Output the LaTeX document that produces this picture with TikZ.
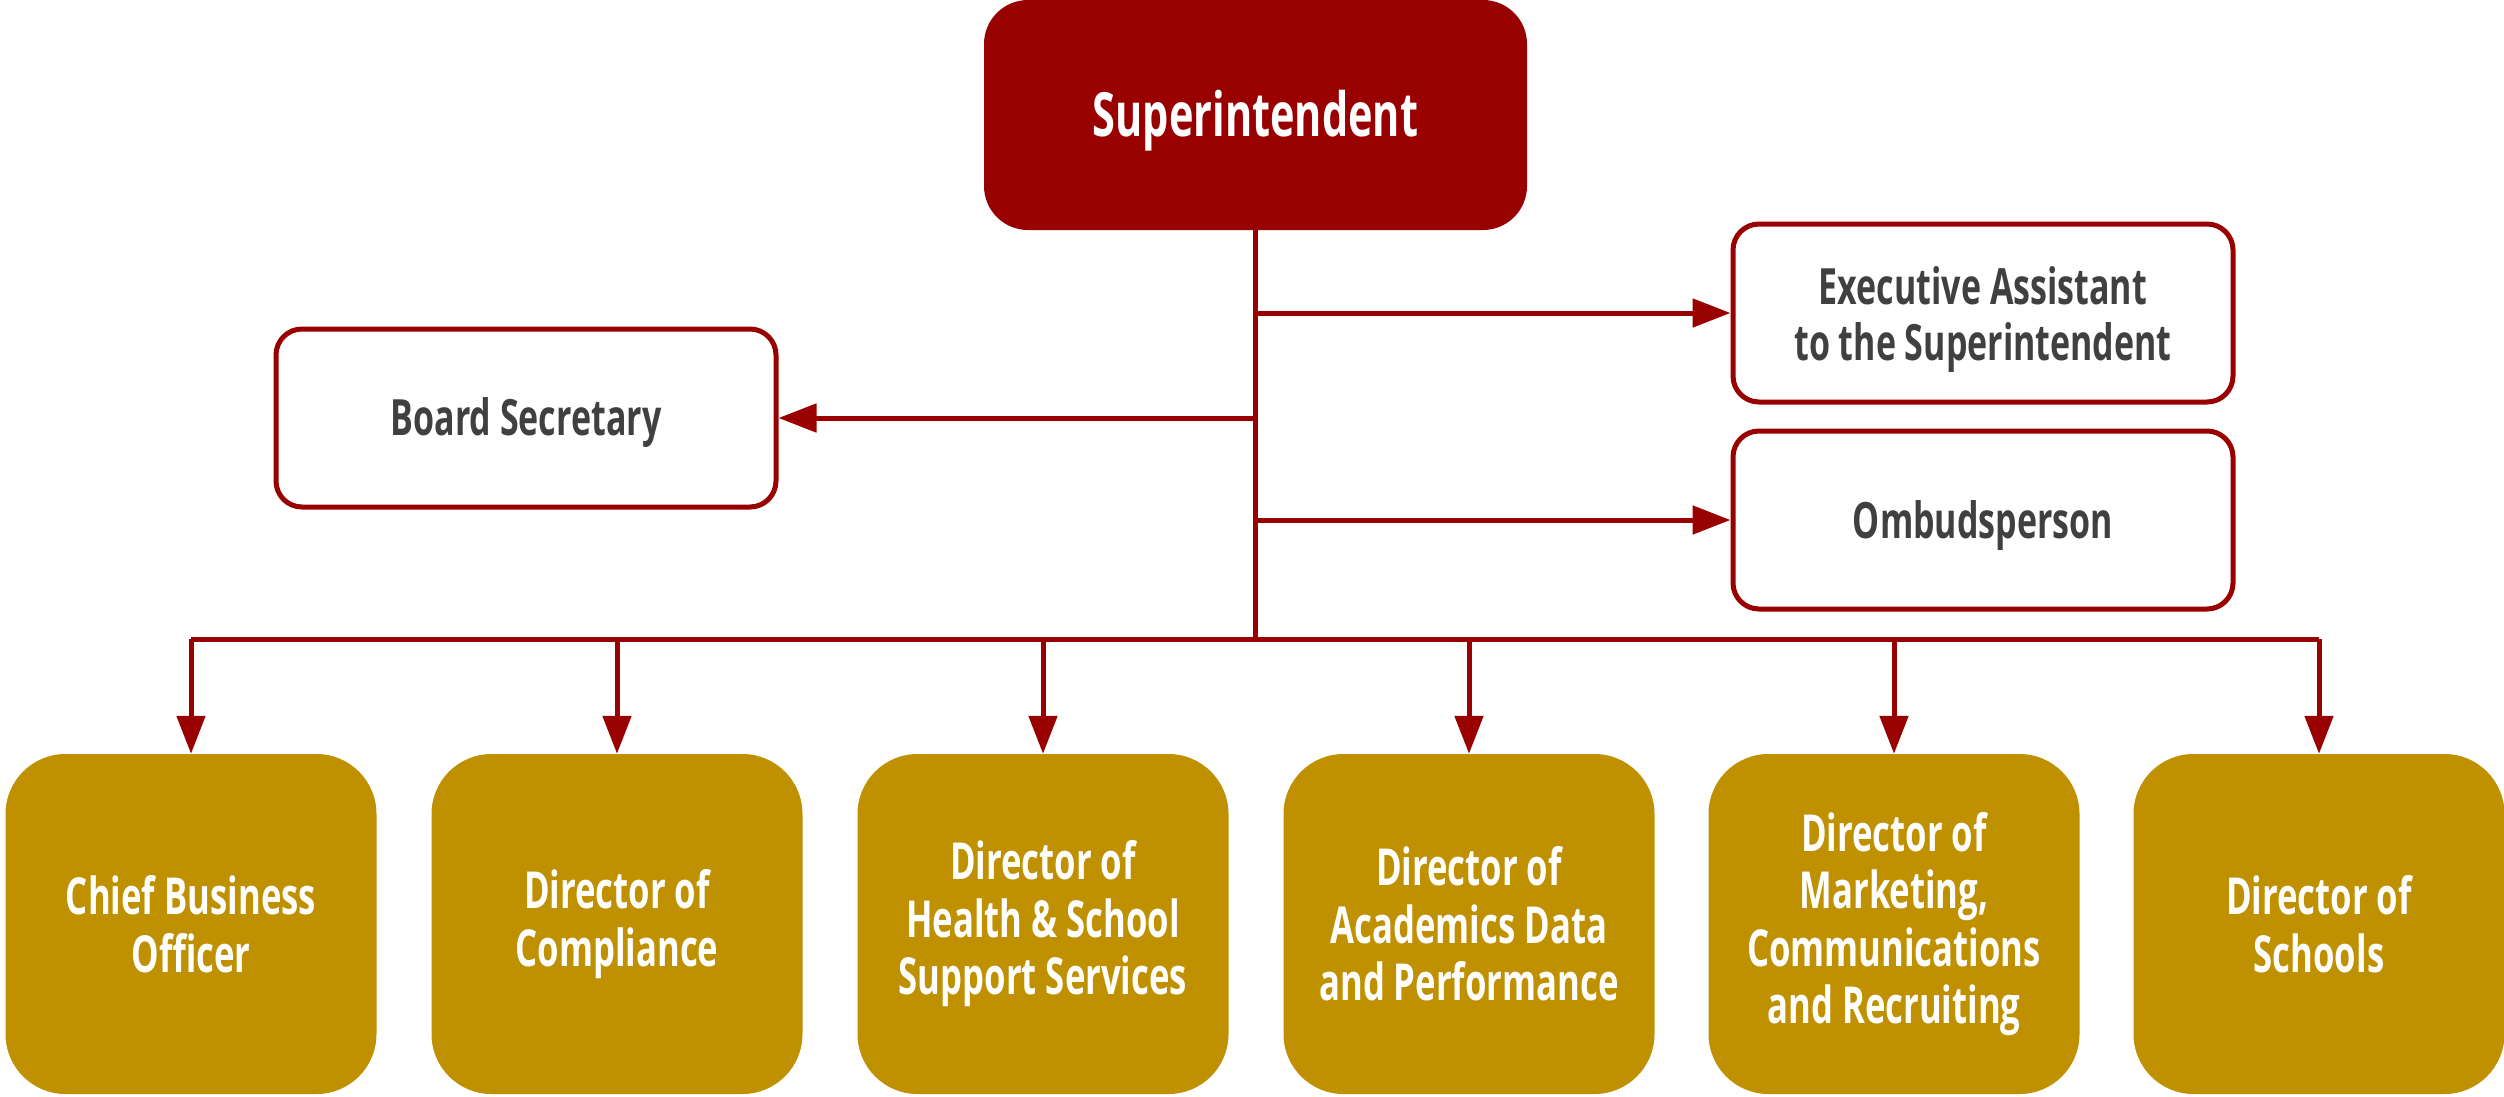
\documentclass[tikz,border=0pt]{standalone}
\usepackage{fontspec}
\setmainfont{Open Sans}[FakeStretch=0.68]
\usetikzlibrary{arrows.meta}
\definecolor{dred}{HTML}{990000}
\definecolor{gold}{HTML}{BF9000}
\definecolor{tgray}{HTML}{404040}
\begin{document}
\begin{tikzpicture}[x=1pt,y=-1pt,
  topbox/.style={fill=dred,rounded corners=44pt,minimum width=543pt,minimum height=230pt,inner sep=0pt},
  toptext/.style={text=white,inner sep=0pt,font=\bfseries\fontsize{61}{72}\selectfont},
  sidebox/.style={draw=dred,line width=5pt,fill=white,rounded corners=26pt,minimum width=500pt,minimum height=178pt,inner sep=0pt},
  sidetext/.style={text=tgray,align=center,inner sep=0pt,font=\bfseries\fontsize{50}{56}\selectfont},
  dirbox/.style={fill=gold,rounded corners=60pt,minimum width=371pt,minimum height=340pt,inner sep=0pt,
    text=white,align=center,font=\bfseries\fontsize{51}{57.5}\selectfont},
  conn/.style={draw=dred,line width=5pt},
  arr/.style={conn,-{Triangle[length=38pt,width=28pt]}}]
\useasboundingbox (0,0) rectangle (2504,1096);
\node[topbox] (sup) at (1255.5,115) {};
\node[toptext] (supt) at ([yshift=-6pt]sup.center) {Superintendent};
\node[sidebox] (exec) at (1983,313) {};
\node[sidetext] (exect) at ([yshift=-7pt]exec.center) {Executive Assistant\\to the Superintendent};
\node[sidebox] (omb) at (1983,520) {};
\node[sidetext] (ombt) at ([yshift=-6pt]omb.center) {Ombudsperson};
\node[sidebox] (board) at (526,418) {};
\node[sidetext] (boardt) at ([yshift=-5pt]board.center) {Board Secretary};
\node[dirbox] (cbo) at (191,924) {Chief Business\\Officer};
\node[dirbox] (comp) at (617,924) {Director of\\Compliance};
\node[dirbox] (health) at (1043,924) {Director of\\Health \& School\\Support Services};
\node[dirbox] (acad) at (1469,924) {Director of\\Academics Data\\and Performance};
\node[dirbox] (mkt) at (1894,924) {Director of\\Marketing,\\Communications\\and Recruiting};
\node[dirbox] (schools) at (2319,924) {Director of\\Schools};
\coordinate (bus) at (0,639);
\draw[conn] (sup.south) -- (sup.south |- bus);
\draw[conn] (cbo.north |- bus) -- (schools.north |- bus);
\draw[arr] (sup.south |- exec.west) -- (exec.west);
\draw[arr] (sup.south |- omb.west) -- (omb.west);
\draw[arr] (sup.south |- board.east) -- (board.east);
\foreach \n in {cbo,comp,health,acad,mkt,schools}
  \draw[arr] (\n.north |- bus) -- (\n.north);
\end{tikzpicture}
\end{document}
